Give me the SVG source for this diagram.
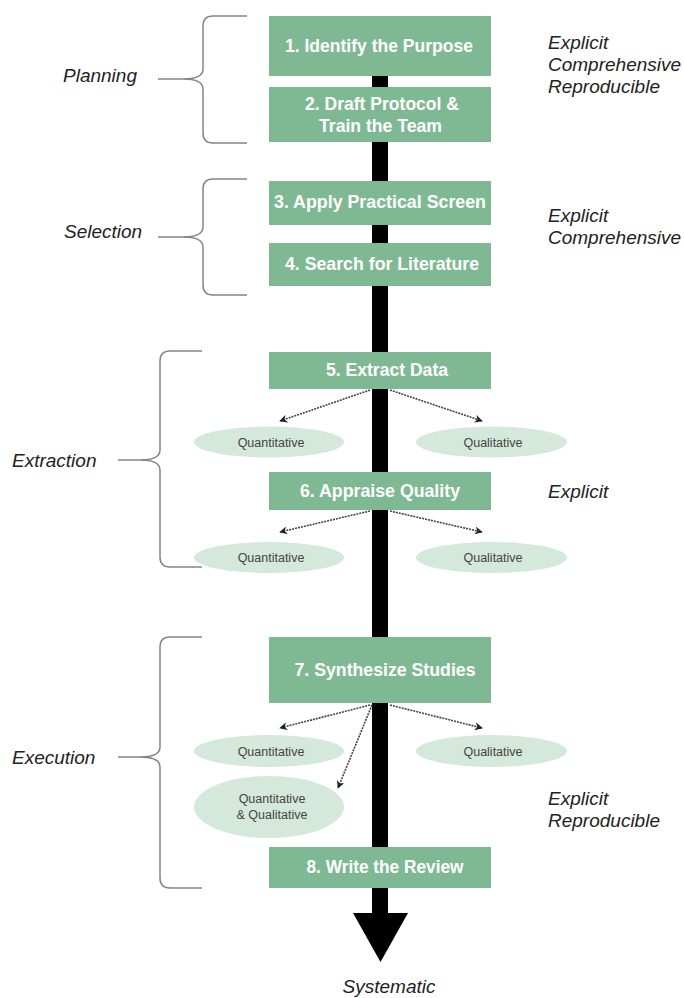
<svg xmlns="http://www.w3.org/2000/svg" width="684" height="998" viewBox="0 0 684 998">
<style>
.box{fill:#7fb994;}
.bt{font-family:"Liberation Sans Narrow","Liberation Sans",Arial,sans-serif;font-weight:bold;font-size:18.5px;fill:#ffffff;text-anchor:middle;}
.ell{fill:#d5e8dc;}
.et{font-family:"Liberation Sans",Arial,sans-serif;font-size:12.5px;fill:#444444;text-anchor:middle;}
.it{font-family:"Liberation Sans",Arial,sans-serif;font-style:italic;font-size:19px;fill:#222222;}
.brace{fill:none;stroke:#858585;stroke-width:1.5;}
.dot{fill:none;stroke:#444444;stroke-width:1.6;stroke-dasharray:2 1;marker-end:url(#ah);}
</style>
<defs>
<marker id="ah" viewBox="0 0 10 10" refX="9" refY="5" markerWidth="8" markerHeight="8" markerUnits="userSpaceOnUse" orient="auto">
<path d="M0,0 L10,5 L0,10 L3,5 z" fill="#222222"/>
</marker>
</defs>
<rect width="684" height="998" fill="#ffffff"/>

<g id="spine">
<rect x="372" y="60" width="16" height="854" fill="#000000"/>
<polygon points="353,913 408,913 380.5,962" fill="#000000"/>
</g>

<g id="connectors">
<line class="dot" x1="370" y1="390" x2="280" y2="421"/>
<line class="dot" x1="390" y1="390" x2="482" y2="421"/>
<line class="dot" x1="370" y1="511" x2="280" y2="532"/>
<line class="dot" x1="390" y1="511" x2="482" y2="532"/>
<line class="dot" x1="370" y1="705" x2="280" y2="728"/>
<line class="dot" x1="390" y1="705" x2="482" y2="728"/>
<line class="dot" x1="372" y1="705" x2="338" y2="788"/>
</g>

<g id="step1"><rect class="box" x="269" y="16" width="222" height="60"/><text class="bt" x="379" y="52" textLength="188" lengthAdjust="spacingAndGlyphs">1. Identify the Purpose</text></g>
<g id="step2"><rect class="box" x="269" y="87" width="222" height="55"/><text class="bt" x="382" y="110" textLength="154" lengthAdjust="spacingAndGlyphs">2. Draft Protocol &amp;</text><text class="bt" x="380.5" y="132" textLength="123" lengthAdjust="spacingAndGlyphs">Train the Team</text></g>
<g id="step3"><rect class="box" x="269" y="181" width="222" height="44"/><text class="bt" x="380" y="208" textLength="212" lengthAdjust="spacingAndGlyphs">3. Apply Practical Screen</text></g>
<g id="step4"><rect class="box" x="269" y="243" width="222" height="43"/><text class="bt" x="382" y="270" textLength="194" lengthAdjust="spacingAndGlyphs">4. Search for Literature</text></g>
<g id="step5"><rect class="box" x="269" y="352" width="222" height="37"/><text class="bt" x="387" y="376" textLength="122" lengthAdjust="spacingAndGlyphs">5. Extract Data</text></g>
<g id="step6"><rect class="box" x="269" y="472" width="222" height="38"/><text class="bt" x="380" y="497" textLength="160" lengthAdjust="spacingAndGlyphs">6. Appraise Quality</text></g>
<g id="step7"><rect class="box" x="269" y="637" width="222" height="66"/><text class="bt" x="385" y="676" textLength="181" lengthAdjust="spacingAndGlyphs">7. Synthesize Studies</text></g>
<g id="step8"><rect class="box" x="269" y="847" width="222" height="41"/><text class="bt" x="385" y="873" textLength="157" lengthAdjust="spacingAndGlyphs">8. Write the Review</text></g>

<g id="e5a"><ellipse class="ell" cx="269" cy="442" rx="75" ry="15.5"/><text class="et" x="271" y="446.5">Quantitative</text></g>
<g id="e5b"><ellipse class="ell" cx="491.5" cy="442" rx="75.5" ry="15.5"/><text class="et" x="493" y="446.5">Qualitative</text></g>
<g id="e6a"><ellipse class="ell" cx="269" cy="557.5" rx="75" ry="15.5"/><text class="et" x="271" y="562">Quantitative</text></g>
<g id="e6b"><ellipse class="ell" cx="491.5" cy="557.5" rx="75.5" ry="15.5"/><text class="et" x="493" y="562">Qualitative</text></g>
<g id="e7a"><ellipse class="ell" cx="269" cy="751" rx="75" ry="16"/><text class="et" x="271" y="755.5">Quantitative</text></g>
<g id="e7b"><ellipse class="ell" cx="491.5" cy="751" rx="75.5" ry="16"/><text class="et" x="493" y="755.5">Qualitative</text></g>
<g id="e7c"><ellipse class="ell" cx="269" cy="807" rx="75" ry="31"/><text class="et" x="272" y="803">Quantitative</text><text class="et" x="272" y="819">&amp; Qualitative</text></g>

<g id="planning">
<path class="brace" d="M247,16 H213 Q203,16 203,26 V69 Q203,79 183,79 H158 M183,79 Q203,79 203,89 V133 Q203,143 213,143 H247"/>
<text class="it" x="63" y="82">Planning</text>
</g>
<g id="selection">
<path class="brace" d="M247,179 H213 Q203,179 203,189 V227 Q203,237 183,237 H158 M183,237 Q203,237 203,247 V285 Q203,295 213,295 H247"/>
<text class="it" x="64" y="238">Selection</text>
</g>
<g id="extraction">
<path class="brace" d="M202,351 H170 Q160,351 160,361 V450 Q160,460 140,460 H118 M140,460 Q160,460 160,470 V557 Q160,567 170,567 H202"/>
<text class="it" x="12" y="467">Extraction</text>
</g>
<g id="execution">
<path class="brace" d="M202,637 H170 Q160,637 160,647 V747 Q160,757 140,757 H118 M140,757 Q160,757 160,767 V878 Q160,888 170,888 H202"/>
<text class="it" x="12" y="764">Execution</text>
</g>

<g id="attrs">
<text class="it" x="548" y="49">Explicit</text>
<text class="it" x="548" y="71">Comprehensive</text>
<text class="it" x="548" y="93">Reproducible</text>
<text class="it" x="548" y="222">Explicit</text>
<text class="it" x="548" y="244">Comprehensive</text>
<text class="it" x="548" y="498">Explicit</text>
<text class="it" x="548" y="805">Explicit</text>
<text class="it" x="548" y="827">Reproducible</text>
<text class="it" x="389" y="993" text-anchor="middle">Systematic</text>
</g>
</svg>
